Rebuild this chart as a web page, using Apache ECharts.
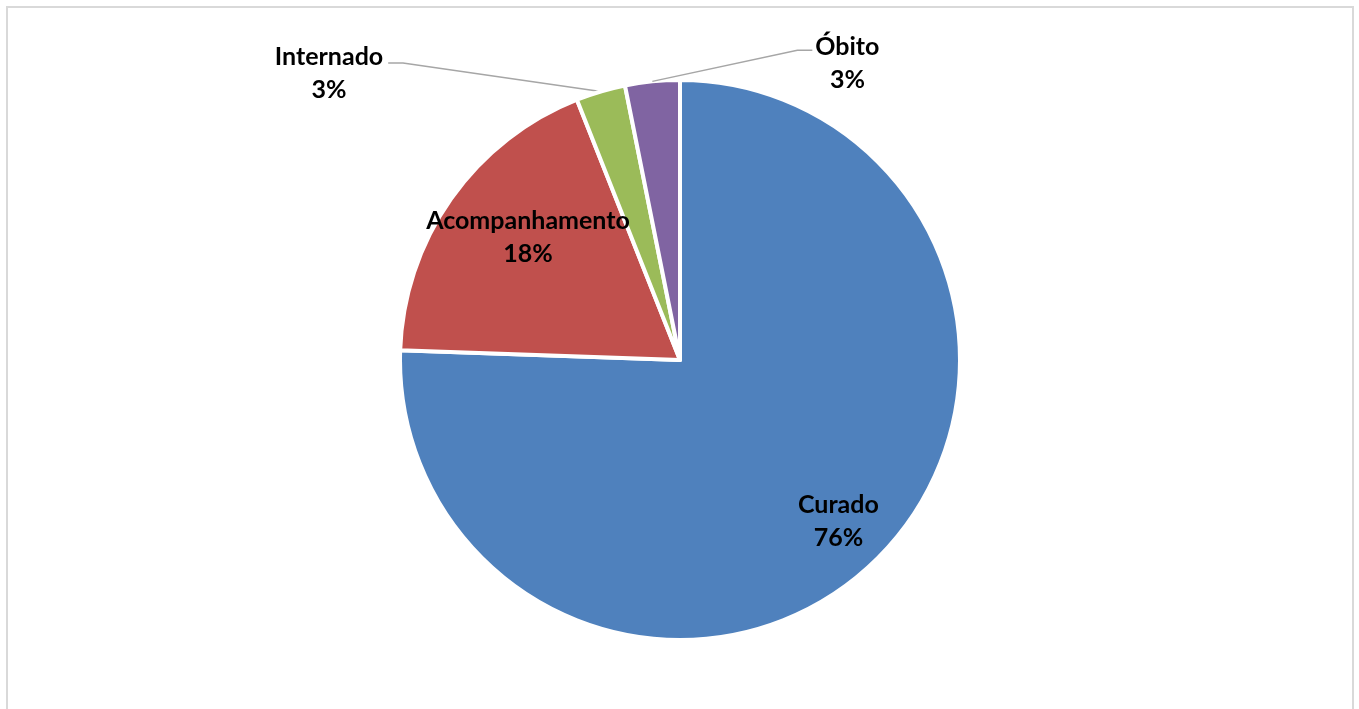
<!DOCTYPE html>
<html>
<head>
<meta charset="utf-8">
<script src="https://cdn.jsdelivr.net/npm/echarts@6/dist/echarts.min.js"></script>
<style>
html,body{margin:0;padding:0;background:#fff;overflow:hidden}
#chart{position:absolute;left:0;top:0;width:1359px;height:709px}
#frame{position:absolute;left:6px;top:6px;width:1344px;height:760px;border:2px solid #D9D9D9;pointer-events:none}
</style>
</head>
<body>
<div id="chart"></div>
<div id="frame"></div>
<script>
// ---- data ----
const categories = ['Curado', 'Acompanhamento', 'Internado', 'Óbito'];
const values = [75.55, 18.45, 2.85, 3.15];
const colors = ['#4F81BD', '#C0504D', '#9BBB59', '#8064A2'];

const FONT = 'Lato';
const FS = 25;
const LH = 33;

function fmt(p) {
  return '{t|' + p.name + '}\n{t|' + Math.round(p.percent) + '%}';
}
const rich = { t: { align: 'center', fontFamily: FONT, fontWeight: 'bold', fontSize: FS, lineHeight: LH, color: '#000' } };
const baseLabel = { color: '#000', fontFamily: FONT, fontWeight: 'bold', fontSize: FS, lineHeight: LH, formatter: fmt, rich: rich };
const leader = { color: '#A6A6A6', width: 1.5 };
const CENTER = [680, 360];
const R = 280;

function items(showName) {
  return categories.map(function (c, i) {
    const show = c === showName;
    return { name: c, value: values[i], label: { show: show }, labelLine: { show: show } };
  });
}

const transparent = { color: 'rgba(0,0,0,0)', borderWidth: 0 };

const option = {
  animation: false,
  backgroundColor: '#fff',
  series: [
    {
      type: 'pie', center: CENTER, radius: [0, R], startAngle: 90, clockwise: true, silent: true,
      itemStyle: { borderColor: '#fff', borderWidth: 4 },
      data: categories.map(function (c, i) {
        const show = c === 'Internado';
        return { name: c, value: values[i], itemStyle: { color: colors[i] }, label: { show: show }, labelLine: { show: show } };
      }),
      label: Object.assign({ position: 'outside', distanceToLabelLine: 5, padding: [20, 0, 0, 0] }, baseLabel),
      labelLine: { length: 29.7, length2: 204, minTurnAngle: 171.8, lineStyle: leader }
    },
    {
      type: 'pie', center: CENTER, radius: [170, R], startAngle: 90, clockwise: true, silent: true, z: 3,
      itemStyle: transparent,
      data: items('Curado'),
      label: Object.assign({ position: 'inside' }, baseLabel),
      labelLine: { show: false },
      labelLayout: { dy: -3 }
    },
    {
      type: 'pie', center: CENTER, radius: [108, R], startAngle: 90, clockwise: true, silent: true, z: 3,
      itemStyle: transparent,
      data: items('Acompanhamento'),
      label: Object.assign({ position: 'inside' }, baseLabel),
      labelLine: { show: false },
      labelLayout: { dx: 9, dy: -9 }
    },
    {
      type: 'pie', center: CENTER, radius: [0, R], startAngle: 90, clockwise: true, silent: true, z: 3,
      itemStyle: transparent,
      data: items('Óbito'),
      label: Object.assign({ position: 'outside', distanceToLabelLine: 4, padding: [26, 0, 0, 0] }, baseLabel),
      labelLine: { length: 10, length2: 10, lineStyle: leader },
      labelLayout: function (p) {
        const pts = p.labelLinePoints;
        if (!pts) { return {}; }
        const s = pts[0];
        const ex = s[0] + 160;
        const ey = s[1] - 31;
        return { x: ex + 3, y: ey, align: 'left', verticalAlign: 'middle',
                 labelLinePoints: [s, [ex - 15, ey], [ex, ey]] };
      }
    }
  ]
};

const chart = echarts.init(document.getElementById('chart'), null, { renderer: 'canvas' });
chart.setOption(option);
</script>
</body>
</html>
